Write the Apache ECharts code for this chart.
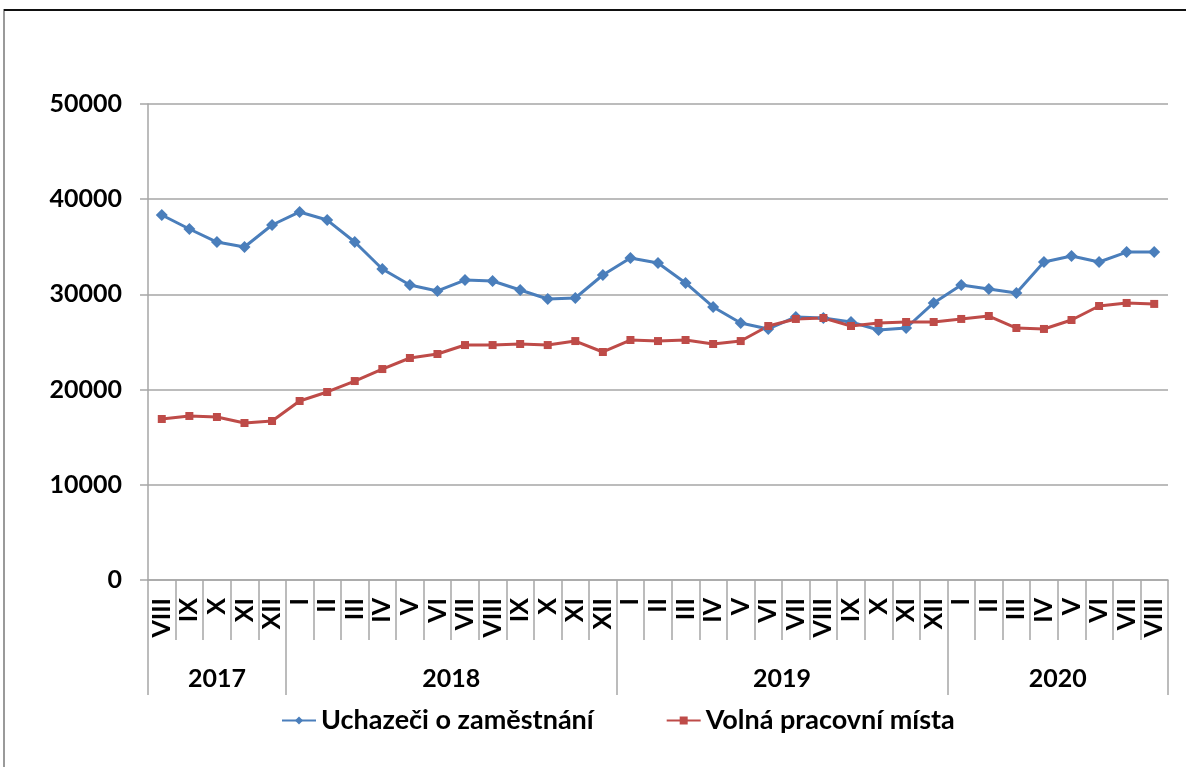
<!DOCTYPE html>
<html>
<head>
<meta charset="utf-8">
<script src="https://cdn.jsdelivr.net/npm/echarts@6/dist/echarts.min.js"></script>
<style>
html,body{margin:0;padding:0;background:#fff;}
#chart{width:1186px;height:767px;}
</style>
</head>
<body>
<div id="chart"></div>
<script>
var months = ['VIII','IX','X','XI','XII',
  'I','II','III','IV','V','VI','VII','VIII','IX','X','XI','XII',
  'I','II','III','IV','V','VI','VII','VIII','IX','X','XI','XII',
  'I','II','III','IV','V','VI','VII','VIII'];
var years = ['2017','2018','2019','2020'];
var monthsPerYear = [5, 12, 12, 8];
var uchazeci = [38340,36870,35500,34980,37290,
  38660,37810,35500,32670,30990,30360,31510,31410,30460,29520,29620,32040,
  33820,33300,31200,28680,27000,26370,27630,27520,27100,26260,26470,29100,
  30990,30570,30150,33400,34030,33400,34450,34450];
var volna = [16910,17230,17120,16490,16700,
  18800,19750,20900,22160,23320,23740,24680,24680,24790,24680,25100,23950,
  25210,25100,25210,24790,25100,26680,27420,27520,26680,27000,27100,27100,
  27420,27730,26470,26370,27310,28780,29100,29000];
var yTicks = {min: 0, max: 50000, interval: 10000};
var seriesNames = ['Uchazeči o zaměstnání', 'Volná pracovní místa'];

// year boundaries and centers derived from monthsPerYear
var bounds = [0], centers = [], acc = 0;
monthsPerYear.forEach(function (n) { centers.push(acc + n / 2); acc += n; bounds.push(acc); });

var FONT = 'Lato';
var gray = '#a6a6a6';
var chart = echarts.init(document.getElementById('chart'));
chart.setOption({
  animation: false,
  grid: {left: 148, right: 18, top: 104, bottom: 187, containLabel: false},
  graphic: [
    {type: 'rect', shape: {x: 4, y: 10, width: 1300, height: 900}, style: {fill: 'none', stroke: '#9a9a9a', lineWidth: 2}, silent: true},
    {type: 'line', shape: {x1: 4, y1: 10, x2: 1186, y2: 10}, style: {stroke: '#111', lineWidth: 2}, silent: true}
  ],
  xAxis: [{
    type: 'category',
    data: months,
    boundaryGap: true,
    axisLine: {show: true, lineStyle: {color: gray, width: 1.5}},
    axisTick: {show: true, interval: 0, length: 60, lineStyle: {color: gray, width: 1.5}},
    axisLabel: {interval: 0, rotate: 90, margin: 18, color: '#000', fontFamily: FONT, fontWeight: 'bold', fontSize: 25}
  }, {
    type: 'value',
    min: 0, max: acc,
    position: 'bottom',
    axisLine: {show: false},
    splitLine: {show: false},
    axisTick: {show: true, customValues: bounds, length: 115, lineStyle: {color: gray, width: 1.5}},
    axisLabel: {
      customValues: centers, margin: 86, color: '#000', fontFamily: FONT, fontWeight: 'bold', fontSize: 25,
      formatter: function (v) { var i = centers.indexOf(v); return i >= 0 ? years[i] : ''; }
    }
  }],
  yAxis: {
    type: 'value',
    min: yTicks.min, max: yTicks.max, interval: yTicks.interval,
    axisLine: {show: true, lineStyle: {color: gray, width: 1.5}},
    axisTick: {show: true, length: 8, lineStyle: {color: gray, width: 1.5}},
    splitLine: {show: true, lineStyle: {color: gray, width: 1.5}},
    axisLabel: {margin: 26, color: '#000', fontFamily: FONT, fontWeight: 'bold', fontSize: 25,
      formatter: function (v) { return String(v); }}
  },
  legend: {
    bottom: 28, left: 276,
    itemWidth: 34, itemHeight: 10, itemGap: 72,
    textStyle: {color: '#000', fontFamily: FONT, fontWeight: 'bold', fontSize: 27},
    data: seriesNames
  },
  series: [{
    name: seriesNames[0], type: 'line', data: uchazeci, xAxisIndex: 0,
    symbol: 'diamond', symbolSize: 12,
    itemStyle: {color: '#4a7ebb'}, lineStyle: {color: '#4a7ebb', width: 3}
  }, {
    name: seriesNames[1], type: 'line', data: volna, xAxisIndex: 0,
    symbol: 'rect', symbolSize: 8,
    itemStyle: {color: '#be4b48'}, lineStyle: {color: '#be4b48', width: 3}
  }]
});
</script>
</body>
</html>
